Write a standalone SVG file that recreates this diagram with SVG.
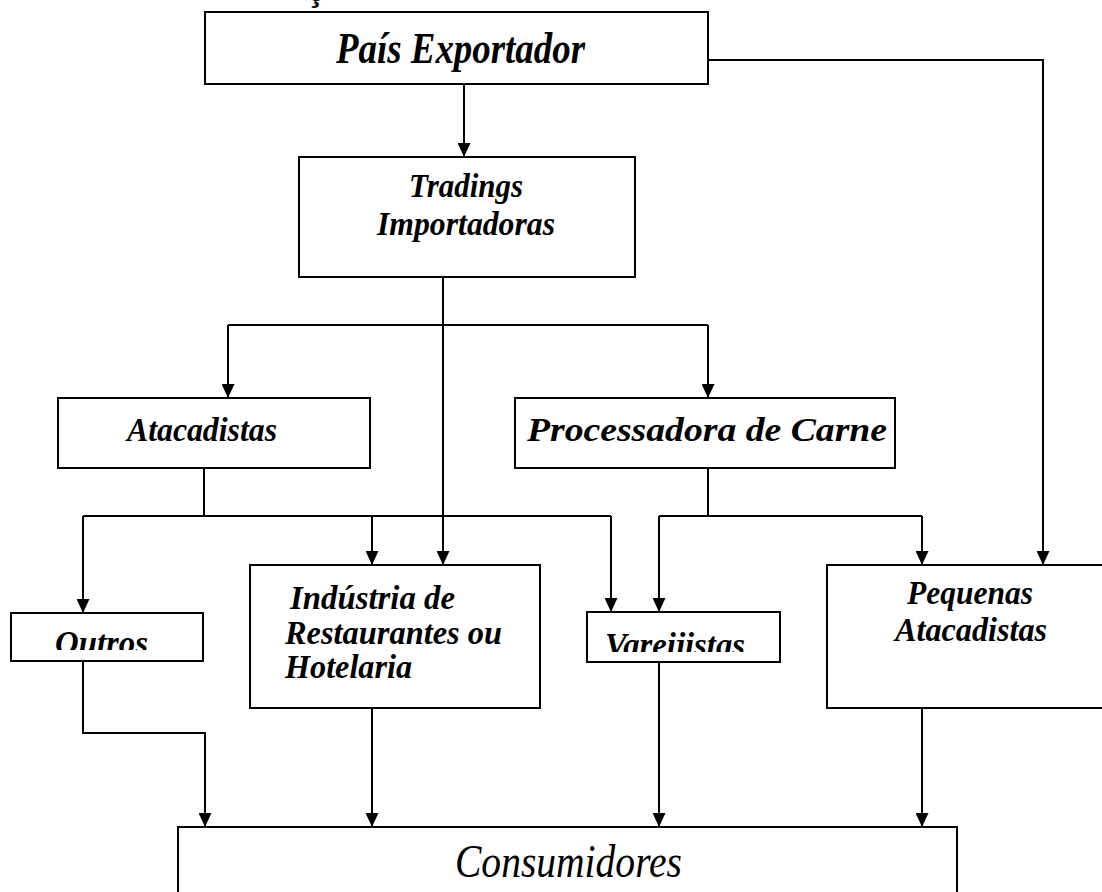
<svg xmlns="http://www.w3.org/2000/svg" width="1102" height="892" viewBox="0 0 1102 892">
<style>
.box{fill:#fff;stroke:#000;stroke-width:2}
.lbl{font-family:"Liberation Serif","DejaVu Serif",serif;font-style:italic;font-weight:bold;font-size:34px;fill:#000}
.big{font-size:44px}
.cons{font-weight:normal;font-size:46px}
.ln{fill:none;stroke:#000;stroke-width:2}
.arr{marker-end:url(#ah)}
</style>
<defs>
<marker id="ah" viewBox="0 0 14 13" refX="14" refY="6.5" markerWidth="14" markerHeight="13" markerUnits="userSpaceOnUse" orient="auto">
<path d="M0,0 L14,6.5 L0,13 z" fill="#000"/>
</marker>
<clipPath id="clipOutros"><rect x="11" y="613" width="192" height="37"/></clipPath>
<clipPath id="clipVarejo"><rect x="587" y="612" width="193" height="40"/></clipPath>
</defs>
<rect width="1102" height="892" fill="#fff"/>
<text class="lbl" x="310" y="1" font-size="22">ç</text>

<g id="connectors">
<path class="ln arr" d="M708,60 H1043 V565"/>
<path class="ln arr" d="M464,84 V157"/>
<path class="ln arr" d="M443,277 V565"/>
<path class="ln" d="M228,325 H708"/>
<path class="ln arr" d="M228,325 V398"/>
<path class="ln arr" d="M708,325 V398"/>
<path class="ln" d="M204,468 V516"/>
<path class="ln" d="M83,516 H611"/>
<path class="ln arr" d="M83,516 V613"/>
<path class="ln arr" d="M372,516 V565"/>
<path class="ln arr" d="M611,516 V612"/>
<path class="ln" d="M708,468 V516"/>
<path class="ln" d="M659,516 H922"/>
<path class="ln arr" d="M659,516 V612"/>
<path class="ln arr" d="M922,516 V565"/>
<path class="ln arr" d="M83,661 V733 H205 V827"/>
<path class="ln arr" d="M372,708 V827"/>
<path class="ln arr" d="M659,662 V827"/>
<path class="ln arr" d="M922,708 V827"/>
</g>

<g id="pais">
<rect class="box" x="205" y="12" width="503" height="72"/>
<text class="lbl big" x="336" y="63" textLength="249" lengthAdjust="spacingAndGlyphs">País Exportador</text>
</g>
<g id="tradings">
<rect class="box" x="299" y="157" width="336" height="120"/>
<text class="lbl" x="409" y="197" textLength="114" lengthAdjust="spacingAndGlyphs">Tradings</text>
<text class="lbl" x="377" y="235" textLength="178" lengthAdjust="spacingAndGlyphs">Importadoras</text>
</g>
<g id="atacadistas">
<rect class="box" x="58" y="398" width="312" height="70"/>
<text class="lbl" x="127" y="441" textLength="150" lengthAdjust="spacingAndGlyphs">Atacadistas</text>
</g>
<g id="processadora">
<rect class="box" x="515" y="398" width="380" height="70"/>
<text class="lbl" x="527" y="441" textLength="360" lengthAdjust="spacingAndGlyphs">Processadora de Carne</text>
</g>
<g id="outros">
<rect class="box" x="11" y="613" width="192" height="48"/>
<text class="lbl" x="55" y="654" clip-path="url(#clipOutros)" textLength="93" lengthAdjust="spacingAndGlyphs">Outros</text>
</g>
<g id="industria">
<rect class="box" x="250" y="565" width="290" height="143"/>
<text class="lbl" x="290" y="609" textLength="165" lengthAdjust="spacingAndGlyphs">Indústria de</text>
<text class="lbl" x="285" y="644" textLength="217" lengthAdjust="spacingAndGlyphs">Restaurantes ou</text>
<text class="lbl" x="285" y="678" textLength="127" lengthAdjust="spacingAndGlyphs">Hotelaria</text>
</g>
<g id="varejistas">
<rect class="box" x="587" y="612" width="193" height="50"/>
<text class="lbl" x="605" y="656" clip-path="url(#clipVarejo)" textLength="140" lengthAdjust="spacingAndGlyphs">Vareijistas</text>
</g>
<g id="pequenas">
<rect class="box" x="827" y="565" width="290" height="143"/>
<text class="lbl" x="907" y="604" textLength="126" lengthAdjust="spacingAndGlyphs">Pequenas</text>
<text class="lbl" x="895" y="641" textLength="152" lengthAdjust="spacingAndGlyphs">Atacadistas</text>
</g>
<g id="consumidores">
<rect class="box" x="178" y="827" width="779" height="90"/>
<text class="lbl cons" x="455" y="877" textLength="227" lengthAdjust="spacingAndGlyphs">Consumidores</text>
</g>
</svg>
